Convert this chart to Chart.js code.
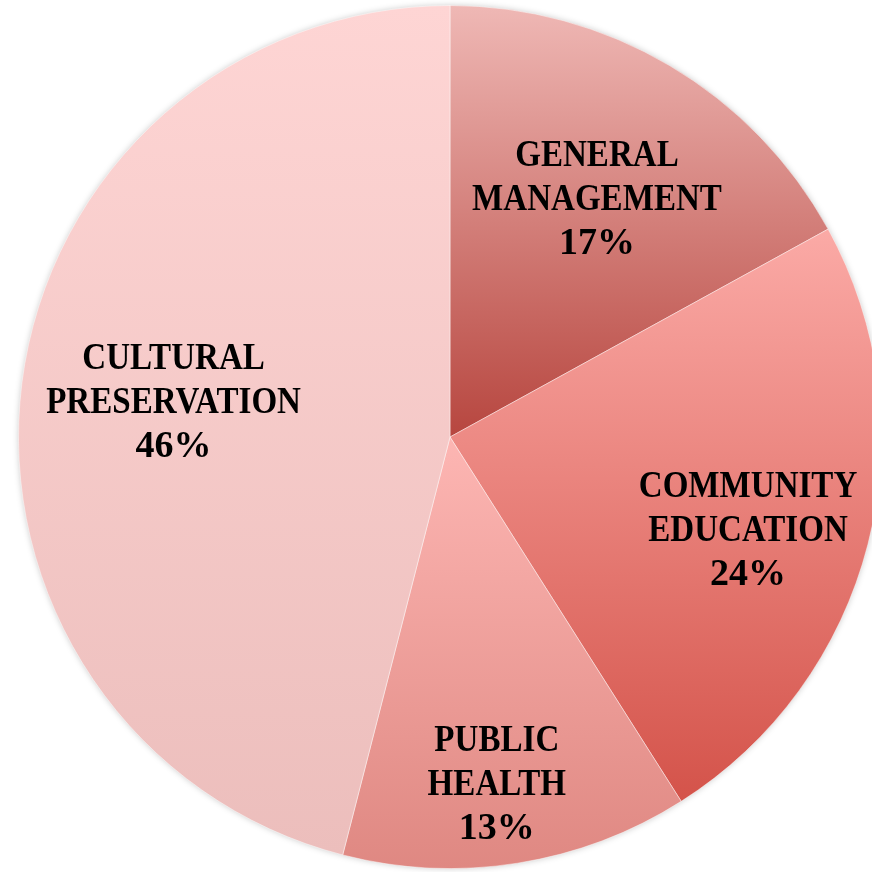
<!DOCTYPE html>
<html>
<head>
<meta charset="utf-8">
<script src="https://cdn.jsdelivr.net/npm/chart.js@4.4.1/dist/chart.umd.min.js"></script>
<style>
  html, body { margin: 0; padding: 0; background: #fff; overflow: hidden; }
  #wrap { position: absolute; left: 0; top: 0; width: 900px; height: 872px; }
</style>
</head>
<body>
<div id="wrap"><canvas id="pieChart"></canvas></div>
<script>
const categories = ['General Management', 'Community Education', 'Public Health', 'Cultural Preservation'];
const values = [17, 24, 13, 46];

// slice gradient colours (top -> bottom)
const topColors = ['#efb8b5', '#fbaaa6', '#fdb6b3', '#fed5d4'];
const bottomColors = ['#b7463f', '#d4534a', '#df8882', '#ecbebc'];
// label placement: fraction of radius, and small angle nudge in degrees
const labelRadius = [0.65, 0.723, 0.81, 0.646];
const labelNudge = [1, 2.8, 1.3, 0.2];

const gradientPlugin = {
  id: 'sliceGradients',
  beforeDatasetsDraw(chart) {
    const ctx = chart.ctx;
    const meta = chart.getDatasetMeta(0);
    const first = meta.data[0];
    if (!first) return;
    const p = first.getProps(['x', 'y', 'outerRadius']);
    // soft shadow round the whole pie
    ctx.save();
    ctx.shadowColor = 'rgba(0,0,0,0.28)';
    ctx.shadowBlur = 7;
    ctx.fillStyle = '#f3c4c2';
    ctx.beginPath();
    ctx.arc(p.x, p.y, p.outerRadius - 1, 0, Math.PI * 2);
    ctx.fill();
    ctx.restore();

    meta.data.forEach((arc, i) => {
      const a = arc.getProps(['x', 'y', 'startAngle', 'endAngle', 'outerRadius']);
      // vertical extent of this slice
      let minY = a.y, maxY = a.y;
      const steps = 60;
      for (let s = 0; s <= steps; s++) {
        const ang = a.startAngle + (a.endAngle - a.startAngle) * s / steps;
        const yy = a.y + a.outerRadius * Math.sin(ang);
        minY = Math.min(minY, yy);
        maxY = Math.max(maxY, yy);
      }
      const g = ctx.createLinearGradient(0, minY, 0, maxY);
      g.addColorStop(0, topColors[i]);
      g.addColorStop(1, bottomColors[i]);
      arc.options.backgroundColor = g;
    });
  }
};

const labelPlugin = {
  id: 'sliceLabels',
  afterDatasetsDraw(chart) {
    const ctx = chart.ctx;
    const meta = chart.getDatasetMeta(0);
    const total = values.reduce((s, v) => s + v, 0);
    meta.data.forEach((arc, i) => {
      const a = arc.getProps(['x', 'y', 'startAngle', 'endAngle', 'outerRadius']);
      const mid = (a.startAngle + a.endAngle) / 2 + labelNudge[i] * Math.PI / 180;
      const cx = a.x + Math.cos(mid) * a.outerRadius * labelRadius[i];
      const cy = a.y + Math.sin(mid) * a.outerRadius * labelRadius[i];
      const lines = categories[i].toUpperCase().split(' ');
      lines.push(Math.round(values[i] / total * 100) + '%');
      const lh = 44;
      ctx.save();
      ctx.font = 'bold 38px "Liberation Serif", "Times New Roman", serif';
      ctx.fillStyle = '#000';
      ctx.textAlign = 'center';
      ctx.textBaseline = 'middle';
      lines.forEach((t, k) => {
        const yy = cy + (k - (lines.length - 1) / 2) * lh;
        ctx.save();
        ctx.translate(cx, yy);
        // words are set a bit narrower, the percentage keeps full width
        ctx.scale(k === lines.length - 1 ? 1 : 0.87, 1);
        ctx.fillText(t, 0, 2);
        ctx.restore();
      });
      ctx.restore();
    });
  }
};

const pieChart = new Chart(document.getElementById('pieChart'), {
  type: 'pie',
  data: {
    labels: categories,
    datasets: [{
      data: values,
      backgroundColor: topColors,
      borderColor: 'rgba(255,255,255,0.45)',
      borderWidth: 1
    }]
  },
  options: {
    responsive: true,
    maintainAspectRatio: false,
    animation: false,
    layout: {
      padding: { top: 5, bottom: 3, left: 18, right: 18 }
    },
    plugins: {
      legend: { display: false },
      tooltip: { enabled: false }
    }
  },
  plugins: [gradientPlugin, labelPlugin]
});
</script>
</body>
</html>
